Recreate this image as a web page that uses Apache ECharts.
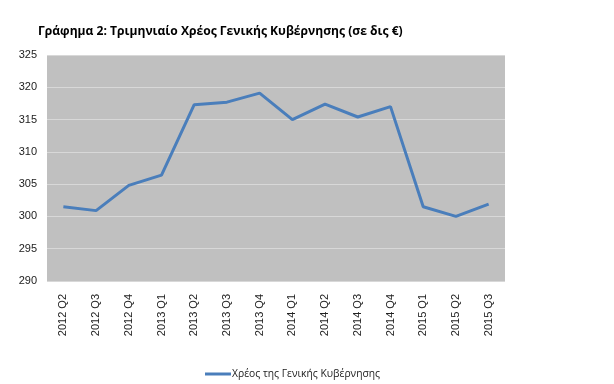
<!DOCTYPE html>
<html><head><meta charset="utf-8">
<script src="https://cdn.jsdelivr.net/npm/echarts@6/dist/echarts.min.js"></script>
<style>html,body{margin:0;padding:0;background:#fff}#c{width:614px;height:384px}</style>
</head><body><div id="c"></div>
<script>
const categories = ['2012 Q2','2012 Q3','2012 Q4','2013 Q1','2013 Q2','2013 Q3','2013 Q4','2014 Q1','2014 Q2','2014 Q3','2014 Q4','2015 Q1','2015 Q2','2015 Q3'];
const debtValues = [301.5, 300.9, 304.8, 306.4, 317.3, 317.7, 319.1, 315.0, 317.4, 315.4, 317.0, 301.5, 300.0, 301.9];
const seriesName = 'Χρέος της Γενικής Κυβέρνησης';
const titleText = 'Γράφημα 2: Τριμηνιαίο Χρέος Γενικής Κυβέρνησης (σε δις €)';

const chart = echarts.init(document.getElementById('c'), null, {renderer:'canvas'});
chart.setOption({
  animation:false,
  title:{text:titleText,left:33,top:21,textStyle:{fontFamily:'Open Sans',fontWeight:'bold',fontSize:12.1,color:'#000'}},
  grid:{left:47,right:109,top:55,bottom:103,containLabel:false,backgroundColor:'#c0c0c0',show:true,borderWidth:0},
  legend:{data:[seriesName],left:200,top:364,itemWidth:26,itemHeight:3,itemGap:4,icon:'rect',
    textStyle:{fontFamily:'Open Sans',fontSize:10.3,color:'#222',padding:[0,0,0,-4]}},
  xAxis:{type:'category',data:categories,boundaryGap:true,
    axisLine:{show:false},axisTick:{show:false},
    axisLabel:{rotate:90,interval:0,fontFamily:'Liberation Sans',fontSize:11,color:'#222',margin:13}},
  yAxis:{type:'value',min:290,max:325,interval:5,
    axisLine:{show:false},axisTick:{show:false},
    axisLabel:{fontFamily:'Liberation Sans',fontSize:11,color:'#222',margin:10},
    splitLine:{lineStyle:{color:'#d8d8d8',width:1}}},
  series:[{name:seriesName,type:'line',data:debtValues,symbol:'none',
    lineStyle:{color:'#4a7ebb',width:3},itemStyle:{color:'#4a7ebb'}}]
});
</script></body></html>
